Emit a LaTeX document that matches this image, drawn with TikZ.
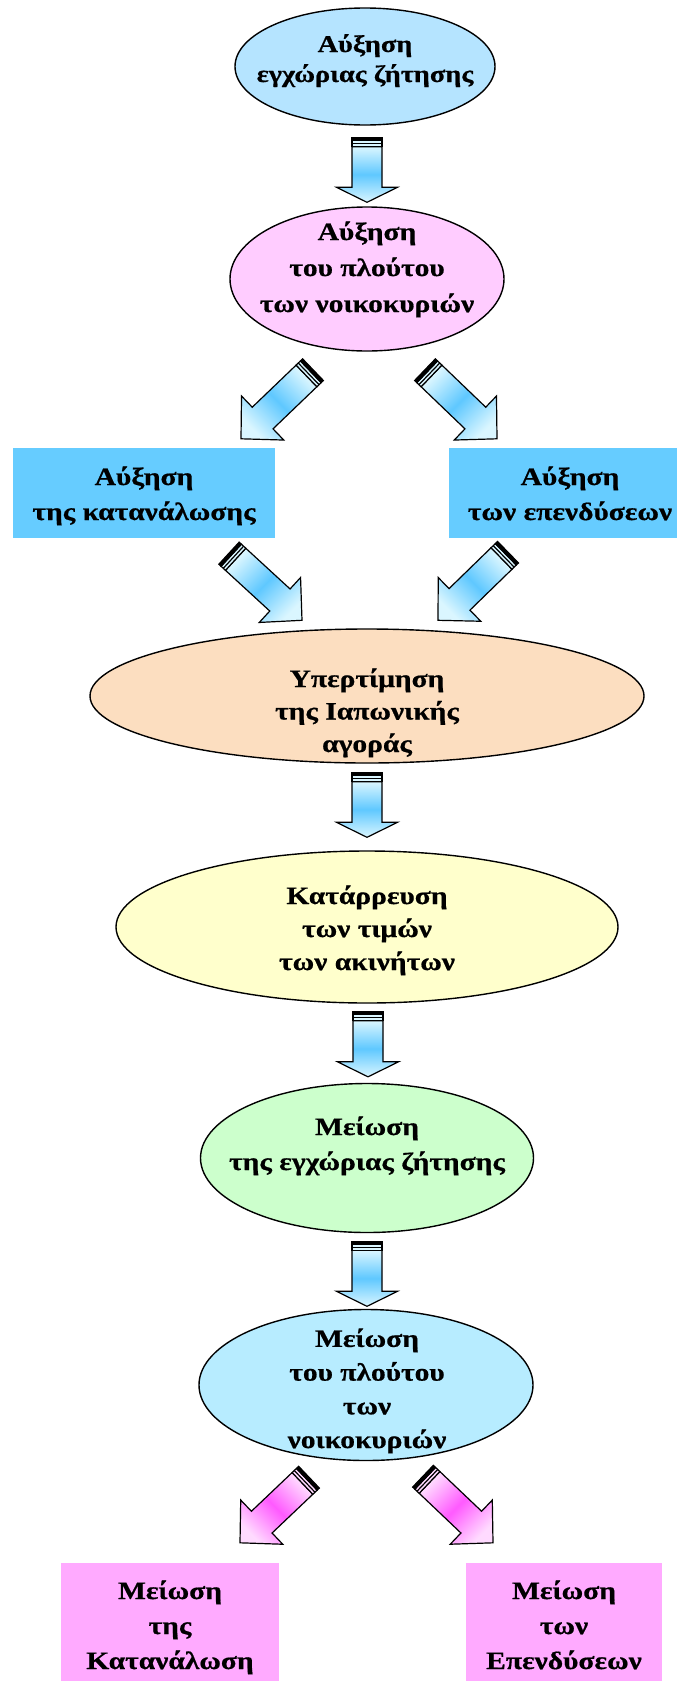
\documentclass[tikz,border=0pt]{standalone}
\usepackage{fontspec}
\setmainfont{Liberation Serif}[FakeStretch=1.18, BoldFeatures={FakeBold=0.6}]
\usetikzlibrary{calc,shapes.geometric}

\definecolor{ovalA}{RGB}{181,228,255}
\definecolor{ovalB}{RGB}{255,204,255}
\definecolor{ovalC}{RGB}{252,222,192}
\definecolor{ovalD}{RGB}{255,255,204}
\definecolor{ovalE}{RGB}{204,255,204}
\definecolor{ovalF}{RGB}{183,236,255}
\definecolor{boxblue}{RGB}{102,204,255}
\definecolor{boxpink}{RGB}{255,170,255}
\definecolor{arrblueL}{RGB}{218,246,255}
\definecolor{arrblueD}{RGB}{95,200,255}
\definecolor{arrpinkL}{RGB}{255,218,255}
\definecolor{arrpinkD}{RGB}{255,90,255}

\tikzset{
  oval/.style={ellipse, draw=black, line width=1.4pt, inner sep=0pt},
  flatbox/.style={rectangle, inner sep=0pt},
  caption/.style={font=\bfseries\fontsize{25}{#1}\selectfont, align=center,
    anchor=base, inner sep=0pt},
  arrowline/.style={draw=black, line width=1.2pt, line join=miter},
}

% Striped block arrow from a start coordinate to a tip coordinate.
% #1 start, #2 tip, #3 head length, #4 shading angle,
% #5 light shade, #6 deep shade, #7 band colour of the cap
\newcommand\blockarrow[7]{%
  \coordinate (#1-m) at ($(#1)!3pt!(#2)$);
  \coordinate (#1-k) at ($(#1)!6pt!(#2)$);
  \coordinate (#1-c) at ($(#1)!9pt!(#2)$);
  \coordinate (#1-h) at ($(#2)!#3!(#1)$);
  \draw[arrowline, top color=#5, bottom color=#5, middle color=#6, shading angle=#4]
    ($(#1-c)!15pt!90:(#2)$) -- ($(#1-h)!15pt!90:(#2)$) -- ($(#1-h)!30.5pt!90:(#2)$)
    -- (#2) -- ($(#1-h)!30.5pt!-90:(#2)$) -- ($(#1-h)!15pt!-90:(#2)$)
    -- ($(#1-c)!15pt!-90:(#2)$) -- cycle;
  \draw[arrowline, fill=#7] ($(#1-m)!15pt!90:(#2)$) -- ($(#1-c)!15pt!90:(#2)$)
    -- ($(#1-c)!15pt!-90:(#2)$) -- ($(#1-m)!15pt!-90:(#2)$) -- cycle;
  \draw[arrowline] ($(#1-k)!15pt!90:(#2)$) -- ($(#1-k)!15pt!-90:(#2)$);
  \draw[arrowline, fill=black] ($(#1)!15pt!90:(#2)$) -- ($(#1-m)!15pt!90:(#2)$)
    -- ($(#1-m)!15pt!-90:(#2)$) -- ($(#1)!15pt!-90:(#2)$) -- cycle;
}

\begin{document}
\begin{tikzpicture}[x=1pt, y=-1pt]
\useasboundingbox (0,0) rectangle (677,1681);
\clip (0,0) rectangle (677,1681);
\fill[white] (0,0) rectangle (677,1681);

% shapes
\node[oval, fill=ovalA, minimum width=260pt, minimum height=117pt] (e1) at (365,66.5) {};
\node[oval, fill=ovalB, minimum width=274pt, minimum height=144pt] (e2) at (367,279) {};
\node[flatbox, fill=boxblue, minimum width=262pt, minimum height=90pt] (b1) at (144,493) {};
\node[flatbox, fill=boxblue, minimum width=242pt, minimum height=90pt] (b2) at (570,493) {};
\node[oval, fill=ovalC, minimum width=554pt, minimum height=134pt] (e3) at (367,696) {};
\node[oval, fill=ovalD, minimum width=502pt, minimum height=152pt] (e4) at (367,927) {};
\node[oval, fill=ovalE, minimum width=333pt, minimum height=149pt] (e5) at (367,1158) {};
\node[oval, fill=ovalF, minimum width=334pt, minimum height=151pt] (e6) at (366,1385) {};
\node[flatbox, fill=boxpink, minimum width=218pt, minimum height=127pt] (b3) at (170,1626.5) {};
\node[flatbox, fill=boxpink, minimum width=196pt, minimum height=127pt] (b4) at (564,1626.5) {};

% captions (placed by the baseline of their last line)
\node[caption=30, font=\bfseries\fontsize{24}{30}\selectfont] (e1-text) at (365,82) {Αύξηση\\εγχώριας ζήτησης};
\node[caption=36] (e2-text) at (367,312) {Αύξηση\\του πλούτου\\των νοικοκυριών};
\node[caption=35] (b1-text) at (144,520) {Αύξηση\\της κατανάλωσης};
\node[caption=35] (b2-text) at (570,520) {Αύξηση\\των επενδύσεων};
\node[caption=32.5] (e3-text) at (367,752) {Υπερτίμηση\\της Ιαπωνικής\\αγοράς};
\node[caption=33] (e4-text) at (367,970) {Κατάρρευση\\των τιμών\\των ακινήτων};
\node[caption=35] (e5-text) at (367,1170) {Μείωση\\της εγχώριας ζήτησης};
\node[caption=33.7] (e6-text) at (367,1448) {Μείωση\\του πλούτου\\των\\νοικοκυριών};
\node[caption=35] (b3-text) at (170,1669) {Μείωση\\της\\Κατανάλωση};
\node[caption=35] (b4-text) at (564,1669) {Μείωση\\των\\Επενδύσεων};

% arrow end points
\coordinate (a1s) at ($(e1.south)+(2,12)$);
\coordinate (a1t) at ($(e2.north)+(0,-4)$);
\coordinate (a2Ls) at ($(e2.south)+(-54,18)$);
\coordinate (a2Lt) at ($(b1.north)+(97,-9)$);
\coordinate (a2Rs) at ($(e2.south)+(58,18)$);
\coordinate (a2Rt) at ($(b2.north)+(-73,-9)$);
\coordinate (a3Ls) at ($(b1.south)+(85,15)$);
\coordinate (a3Lt) at ($(e3.north)+(-65,-8)$);
\coordinate (a3Rs) at ($(b2.south)+(-62,14)$);
\coordinate (a3Rt) at ($(e3.north)+(71,-8)$);
\coordinate (a4s) at ($(e3.south)+(0,9)$);
\coordinate (a4t) at ($(e4.north)+(0,-13)$);
\coordinate (a5s) at ($(e4.south)+(1,8)$);
\coordinate (a5t) at ($(e5.north)+(1,-6)$);
\coordinate (a6s) at ($(e5.south)+(0,8)$);
\coordinate (a6t) at ($(e6.north)+(1,-2.5)$);
\coordinate (a7Ls) at ($(e6.south)+(-57,16)$);
\coordinate (a7Lt) at ($(b3.north)+(70,-20)$);
\coordinate (a7Rs) at ($(e6.south)+(57,15)$);
\coordinate (a7Rt) at ($(b4.north)+(-71,-20)$);

% arrows
\blockarrow{a1s}{a1t}{15pt}{0}{arrblueL}{arrblueD}{arrblueL}
\blockarrow{a2Ls}{a2Lt}{30pt}{-45}{arrblueL}{arrblueD}{arrblueL}
\blockarrow{a2Rs}{a2Rt}{30pt}{45}{arrblueL}{arrblueD}{arrblueL}
\blockarrow{a3Ls}{a3Lt}{30pt}{45}{arrblueL}{arrblueD}{arrblueL}
\blockarrow{a3Rs}{a3Rt}{30pt}{-45}{arrblueL}{arrblueD}{arrblueL}
\blockarrow{a4s}{a4t}{15pt}{0}{arrblueL}{arrblueD}{arrblueL}
\blockarrow{a5s}{a5t}{15pt}{0}{arrblueL}{arrblueD}{arrblueL}
\blockarrow{a6s}{a6t}{15pt}{0}{arrblueL}{arrblueD}{arrblueL}
\blockarrow{a7Ls}{a7Lt}{30pt}{-45}{arrpinkL}{arrpinkD}{arrpinkL}
\blockarrow{a7Rs}{a7Rt}{30pt}{45}{arrpinkL}{arrpinkD}{arrpinkL}
\end{tikzpicture}
\end{document}
